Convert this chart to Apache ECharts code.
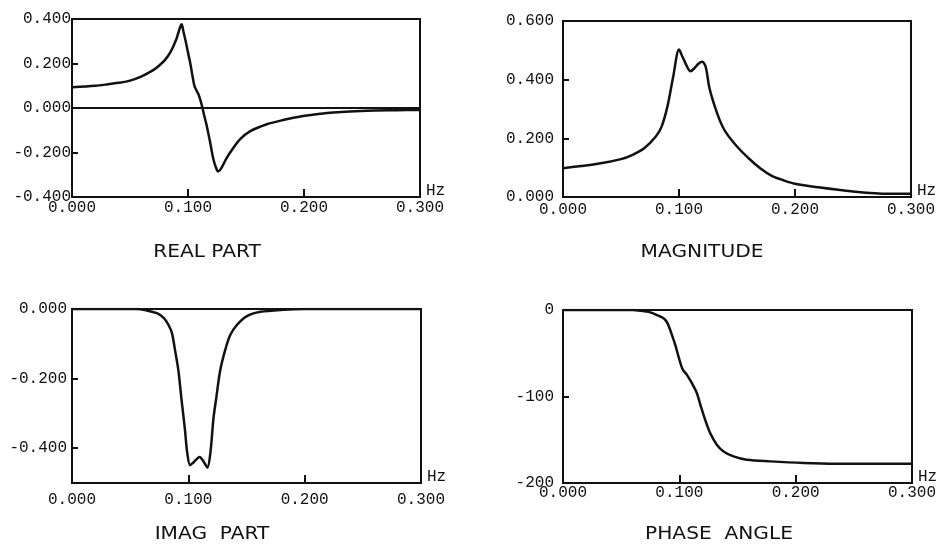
<!DOCTYPE html>
<html>
<head>
<meta charset="utf-8">
<script src="https://cdn.jsdelivr.net/npm/echarts@6/dist/echarts.min.js"></script>
<style>
  html, body { margin: 0; padding: 0; background: #fff; }
  #chart { width: 945px; height: 551px; }
</style>
</head>
<body>
<div id="chart"></div>
<script>
// frequency axis (Hz)
const freqTicks = [0, 0.1, 0.2, 0.3];

// REAL PART
const realFreq = [0, 0.02, 0.03, 0.04, 0.05, 0.06, 0.07, 0.075, 0.08, 0.085, 0.09, 0.093, 0.0945, 0.096, 0.098, 0.1, 0.102, 0.104, 0.1055, 0.107, 0.109, 0.111, 0.1125, 0.114, 0.116, 0.119, 0.1218, 0.124, 0.126, 0.129, 0.133, 0.139, 0.145, 0.153, 0.168, 0.182, 0.197, 0.211, 0.225, 0.254, 0.28, 0.3];
const realVals = [0.093, 0.100, 0.106, 0.113, 0.123, 0.142, 0.170, 0.190, 0.215, 0.252, 0.310, 0.360, 0.376, 0.345, 0.300, 0.250, 0.200, 0.140, 0.100, 0.082, 0.062, 0.030, 0.000, -0.035, -0.076, -0.152, -0.228, -0.266, -0.285, -0.268, -0.228, -0.180, -0.140, -0.106, -0.073, -0.054, -0.038, -0.028, -0.020, -0.012, -0.010, -0.009];

// MAGNITUDE
const magFreq = [0, 0.03, 0.05, 0.06, 0.07, 0.08, 0.085, 0.09, 0.095, 0.1, 0.103, 0.107, 0.11, 0.113, 0.117, 0.12, 0.123, 0.126, 0.13, 0.135, 0.14, 0.15, 0.16, 0.17, 0.18, 0.19, 0.2, 0.22, 0.25, 0.28, 0.3];
const magVals = [0.098, 0.113, 0.129, 0.144, 0.166, 0.206, 0.240, 0.308, 0.410, 0.503, 0.478, 0.444, 0.429, 0.438, 0.455, 0.461, 0.444, 0.376, 0.319, 0.263, 0.223, 0.172, 0.132, 0.098, 0.072, 0.057, 0.045, 0.033, 0.019, 0.011, 0.011];

// IMAG PART
const imagFreq = [0, 0.055, 0.064, 0.073, 0.079, 0.083, 0.086, 0.0886, 0.0915, 0.094, 0.097, 0.099, 0.1015, 0.1044, 0.1096, 0.1136, 0.1164, 0.119, 0.1216, 0.124, 0.1273, 0.1316, 0.136, 0.1417, 0.15, 0.162, 0.182, 0.2, 0.3];
const imagVals = [0, 0, -0.004, -0.012, -0.026, -0.046, -0.070, -0.119, -0.178, -0.256, -0.344, -0.412, -0.449, -0.441, -0.425, -0.441, -0.456, -0.412, -0.314, -0.256, -0.178, -0.119, -0.075, -0.046, -0.021, -0.008, -0.002, 0, 0];

// PHASE ANGLE
const phaseFreq = [0, 0.06, 0.0664, 0.075, 0.0807, 0.0864, 0.0899, 0.0936, 0.0965, 0.0993, 0.1028, 0.1065, 0.1108, 0.1151, 0.1185, 0.1222, 0.1265, 0.1322, 0.138, 0.1466, 0.158, 0.178, 0.2067, 0.2353, 0.3];
const phaseVals = [0, 0, -0.8, -2.7, -5.8, -9.6, -15.4, -28.8, -40.4, -53.8, -68.5, -75, -84.6, -96.2, -111.5, -126.9, -142.3, -155.8, -163.5, -169.2, -173.1, -175, -176.9, -177.7, -177.7];

const zip = (xs, ys) => xs.map((x, i) => [x, ys[i]]);

const MONO = '"Liberation Mono", "DejaVu Sans Mono", monospace';
const INK = '#111';

const grids = [
  { left: 72, top: 19, width: 348, height: 178 },
  { left: 563, top: 21, width: 348, height: 176 },
  { left: 72, top: 309, width: 349, height: 174 },
  { left: 563, top: 310, width: 349, height: 173 }
].map((g) => ({
  ...g,
  show: true,
  borderColor: INK,
  borderWidth: 2,
  backgroundColor: 'transparent',
  outerBoundsMode: 'none' // keep the boxes where they are, "Hz" may hang outside
}));

function xAxisFor(idx, labelMargin) {
  return {
    type: 'value',
    gridIndex: idx,
    min: 0,
    max: 0.3,
    interval: 0.1,
    name: 'Hz',
    nameLocation: 'end',
    nameGap: 6,
    nameMoveOverlap: false,
    nameTextStyle: { fontFamily: MONO, fontSize: 16, color: INK, verticalAlign: 'bottom', lineHeight: 12 },
    axisLine: { show: true, onZero: false, lineStyle: { color: INK, width: 2 } },
    axisTick: { show: true, inside: true, length: 8, lineStyle: { color: INK, width: 2 } },
    axisLabel: {
      fontFamily: MONO, fontSize: 16, color: INK, margin: labelMargin,
      formatter: (v) => v.toFixed(3)
    },
    splitLine: { show: false }
  };
}

function yAxisFor(idx, opts) {
  return {
    type: 'value',
    gridIndex: idx,
    min: opts.min,
    max: opts.max,
    interval: opts.interval,
    axisLine: { show: true, onZero: false, lineStyle: { color: INK, width: 2 } },
    axisTick: { show: true, inside: true, length: 6, lineStyle: { color: INK, width: 2 }, customValues: opts.ticks },
    axisLabel: {
      fontFamily: MONO, fontSize: 16, color: INK, margin: opts.margin,
      padding: [0, 0, 8, 0],
      customValues: opts.ticks,
      formatter: opts.fmt
    },
    splitLine: { show: false }
  };
}

const fmt3 = (v) => (Math.abs(v) < 1e-9 ? 0 : v).toFixed(3);
const fmt0 = (v) => String(Math.round(v));

const lineStyle = { color: INK, width: 2.5 };

const chart = echarts.init(document.getElementById('chart'), null, { renderer: 'canvas' });

chart.setOption({
  backgroundColor: '#fff',
  animation: false,
  grid: grids,
  xAxis: [xAxisFor(0, 3), xAxisFor(1, 5), xAxisFor(2, 9), xAxisFor(3, 2)],
  yAxis: [
    yAxisFor(0, { min: -0.4, max: 0.4, interval: 0.2, margin: 1, fmt: fmt3, ticks: [-0.4, -0.2, 0, 0.2, 0.4] }),
    yAxisFor(1, { min: 0, max: 0.6, interval: 0.2, margin: 9, fmt: fmt3, ticks: [0, 0.2, 0.4, 0.6] }),
    yAxisFor(2, { min: -0.5, max: 0, interval: 0.1, margin: 5, fmt: fmt3, ticks: [-0.4, -0.2, 0] }),
    yAxisFor(3, { min: -200, max: 0, interval: 100, margin: 9, fmt: fmt0, ticks: [-200, -100, 0] })
  ],
  series: [
    {
      name: 'REAL PART', type: 'line', xAxisIndex: 0, yAxisIndex: 0,
      data: zip(realFreq, realVals), showSymbol: false, smooth: 0.3, lineStyle,
      markLine: {
        silent: true, symbol: 'none', label: { show: false },
        lineStyle: { color: INK, width: 2, type: 'solid' },
        data: [{ yAxis: 0 }]
      }
    },
    {
      name: 'MAGNITUDE', type: 'line', xAxisIndex: 1, yAxisIndex: 1,
      data: zip(magFreq, magVals), showSymbol: false, smooth: 0.3, lineStyle
    },
    {
      name: 'IMAG PART', type: 'line', xAxisIndex: 2, yAxisIndex: 2,
      data: zip(imagFreq, imagVals), showSymbol: false, smooth: 0.3, lineStyle
    },
    {
      name: 'PHASE ANGLE', type: 'line', xAxisIndex: 3, yAxisIndex: 3,
      data: zip(phaseFreq, phaseVals), showSymbol: false, smooth: 0.3, lineStyle
    }
  ],
  graphic: [
    ['REAL PART', 207, 252],
    ['MAGNITUDE', 702, 252],
    ['IMAG  PART', 212, 534],
    ['PHASE  ANGLE', 719, 534]
  ].map(([text, x, y]) => ({
    type: 'text',
    x, y,
    scaleX: 1.12,
    style: {
      text,
      font: '18px "DejaVu Sans"',
      fill: INK,
      textAlign: 'center',
      textVerticalAlign: 'middle'
    }
  }))
});

window.addEventListener('resize', () => chart.resize());
</script>
</body>
</html>
